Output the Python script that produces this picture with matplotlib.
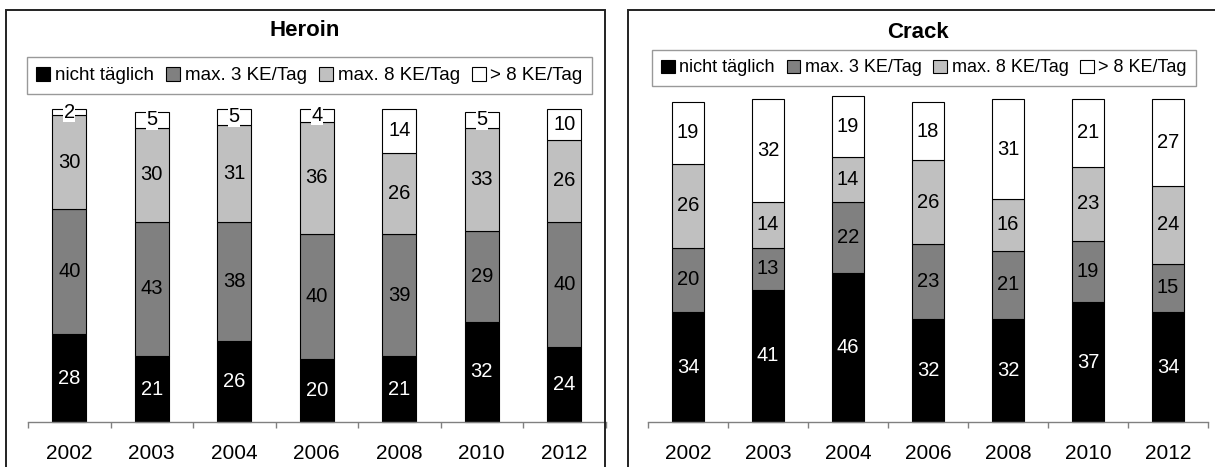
import numpy as np
import matplotlib
matplotlib.use('Agg')
import matplotlib.pyplot as plt
from matplotlib.patches import Rectangle

plt.rcParams['font.family'] = ['Liberation Sans', 'DejaVu Sans']

years = ['2002', '2003', '2004', '2006', '2008', '2010', '2012']
series = ['nicht täglich', 'max. 3 KE/Tag', 'max. 8 KE/Tag', '> 8 KE/Tag']
colors = ['#000000', '#808080', '#c0c0c0', '#ffffff']
label_colors = ['white', 'black', 'black', 'black']

# Heroin
heroin_nicht = [28, 21, 26, 20, 21, 32, 24]
heroin_max3 = [40, 43, 38, 40, 39, 29, 40]
heroin_max8 = [30, 30, 31, 36, 26, 33, 26]
heroin_gt8 = [2, 5, 5, 4, 14, 5, 10]

# Crack
crack_nicht = [34, 41, 46, 32, 32, 37, 34]
crack_max3 = [20, 13, 22, 23, 21, 19, 15]
crack_max8 = [26, 14, 14, 26, 16, 23, 24]
crack_gt8 = [19, 32, 19, 18, 31, 21, 27]

W, H = 1215, 467
fig = plt.figure(figsize=(W / 100, H / 100), dpi=100)


def panel(rect, data, width, title, title_xy, leg_box, leg_fs):
    ax = fig.add_axes(rect)
    x = np.arange(len(years))
    bottom = np.zeros(len(years))
    bars = []
    for i, vals in enumerate(data):
        vals = np.array(vals)
        b = ax.bar(x, vals, width, bottom=bottom, color=colors[i],
                   edgecolor='black', linewidth=0.8, label=series[i],
                   clip_on=False, zorder=2)
        bars.append(b)
        for xi, v, b0 in zip(x, vals, bottom):
            kw = {}
            if i == 3:
                kw['bbox'] = dict(facecolor='white', edgecolor='none', pad=0.5)
            ax.text(xi, b0 + v / 2, str(v), ha='center', va='center',
                    fontsize=14.5, color=label_colors[i], zorder=5, clip_on=False, **kw)
        bottom = bottom + vals
    ax.set_xlim(-0.5, len(years) - 0.5)
    ax.set_ylim(0, 100)
    ax.set_yticks([])
    for s in ['left', 'right', 'top']:
        ax.spines[s].set_visible(False)
    ax.spines['bottom'].set_color('#808080')
    ax.spines['bottom'].set_linewidth(1.0)
    ax.set_xticks(x)
    ax.set_xticklabels(years, fontsize=15)
    ax.tick_params(axis='x', which='major', length=0, pad=16)
    ax.set_xticks(np.arange(-0.5, len(years), 1), minor=True)
    ax.tick_params(axis='x', which='minor', length=4.5, color='#808080', width=1.0)
    ax.patch.set_visible(False)

    fig.text(title_xy[0] / W, 1 - title_xy[1] / H, title, ha='center', va='center',
             fontsize=16, fontweight='bold')

    x0, y0, x1, y1 = leg_box
    leg = fig.legend(handles=bars, labels=series, ncol=4, mode='expand',
                     loc='center', bbox_to_anchor=(x0 / W, 1 - y1 / H, (x1 - x0) / W, (y1 - y0) / H),
                     bbox_transform=fig.transFigure, fontsize=leg_fs, fancybox=False,
                     handlelength=0.75, handleheight=0.75, handletextpad=0.25,
                     borderpad=0.5, borderaxespad=0, columnspacing=0.5)
    leg.get_frame().set_edgecolor('#808080')
    leg.get_frame().set_linewidth(1.0)
    return ax


panel([28 / W, 45 / H, 577.5 / W, 313 / H],
      [heroin_nicht, heroin_max3, heroin_max8, heroin_gt8], 0.41,
      'Heroin', (305, 30), (27, 57, 592, 94), 13.5)
panel([648 / W, 45 / H, 560 / W, 323 / H],
      [crack_nicht, crack_max3, crack_max8, crack_gt8], 0.40,
      'Crack', (918, 32), (652, 48, 1196, 88), 13)

# panel frames
for bx0, bx1 in [(6, 605), (628, 1240)]:
    fig.patches.append(Rectangle((bx0 / W, -0.1), (bx1 - bx0) / W, 1.1 - 10 / H,
                                 transform=fig.transFigure, fill=False,
                                 edgecolor='#222222', linewidth=1.4))

fig.savefig('out.png', dpi=100)
